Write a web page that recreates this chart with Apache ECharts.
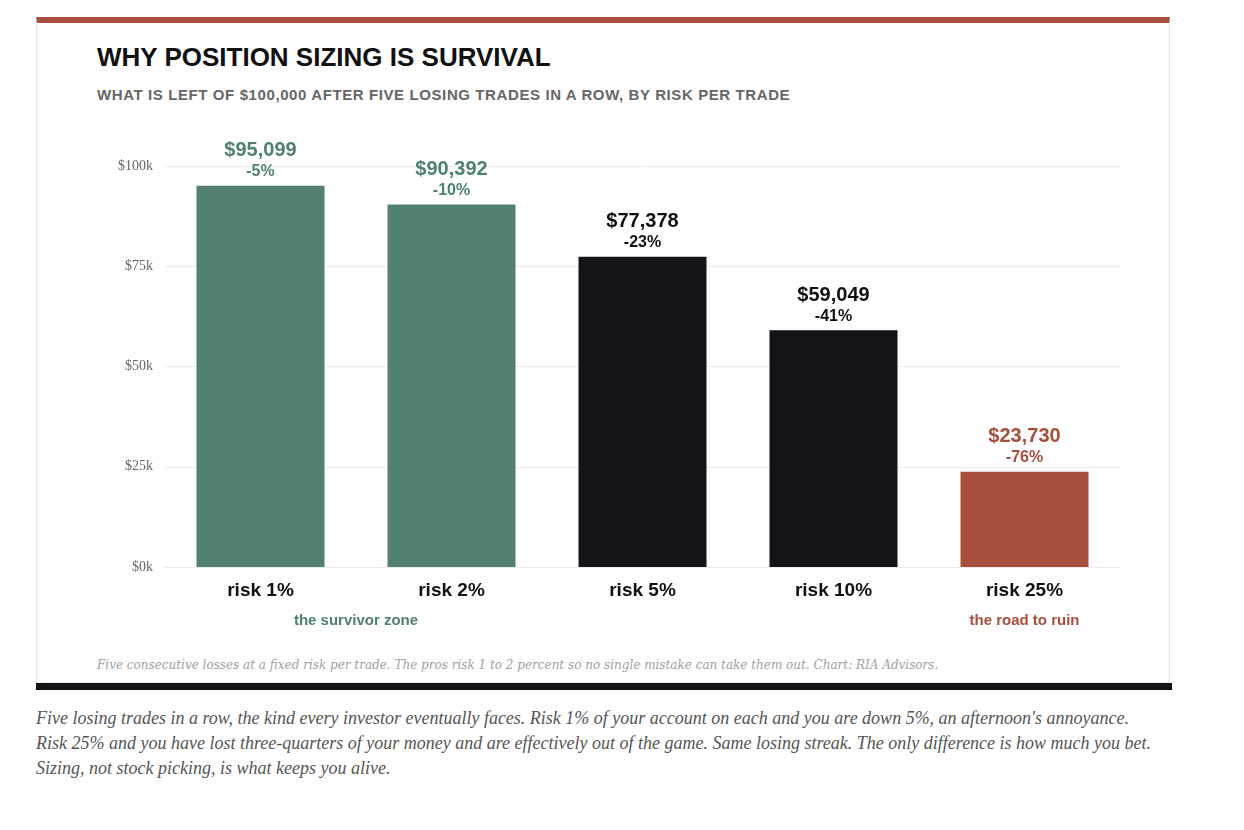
<!DOCTYPE html>
<html><head><meta charset="utf-8">
<script src="https://cdn.jsdelivr.net/npm/echarts@6/dist/echarts.min.js"></script>
<style>
body{margin:0;background:#fff;width:1244px;height:830px;position:relative;overflow:hidden}
#card{position:absolute;left:36px;top:17px;width:1134px;height:666px;border:1px solid #e6e6e6;border-top:6px solid #a84e3c;box-sizing:border-box}
#bar{position:absolute;left:36px;top:683px;width:1136px;height:7px;background:#121418}
#title{position:absolute;left:97px;top:42px;font:bold 26px "Liberation Sans",Arial,sans-serif;color:#111}
#sub{position:absolute;left:97px;top:86px;font:bold 15px "Liberation Sans",Arial,sans-serif;color:#666;letter-spacing:0.6px}
#note{position:absolute;left:97px;top:658px;font:italic 12px "DejaVu Serif",serif;color:#a0a0a0}
#cap{position:absolute;left:36px;top:706px;width:1120px;font:italic 18px "Liberation Serif",Georgia,serif;line-height:25px;color:#555}
#chart{position:absolute;left:36px;top:130px;width:1136px;height:520px}
</style></head><body>
<div id="card"></div><div id="bar"></div>
<div id="title">WHY POSITION SIZING IS SURVIVAL</div>
<div id="sub">WHAT IS LEFT OF $100,000 AFTER FIVE LOSING TRADES IN A ROW, BY RISK PER TRADE</div>
<div id="chart"></div>
<div id="note">Five consecutive losses at a fixed risk per trade. The pros risk 1 to 2 percent so no single mistake can take them out. Chart: RIA Advisors.</div>
<div id="cap">Five losing trades in a row, the kind every investor eventually faces. Risk 1% of your account on each and you are down 5%, an afternoon's annoyance. Risk 25% and you have lost three-quarters of your money and are effectively out of the game. Same losing streak. The only difference is how much you bet. Sizing, not stock picking, is what keeps you alive.</div>
<script>
var categories = ['risk 1%', 'risk 2%', 'risk 5%', 'risk 10%', 'risk 25%'];
var values = [95099, 90392, 77378, 59049, 23730];
var changes = ['-5%', '-10%', '-23%', '-41%', '-76%'];
var barColors = ['#52826f', '#52826f', '#121418', '#121418', '#a84e3c'];
var labelColors = ['#4f8070', '#4f8070', '#111111', '#111111', '#a84e3c'];
var yTicks = [0, 25000, 50000, 75000, 100000];

var chart = echarts.init(document.getElementById('chart'));
var option = {
	animation: false,
	grid: { left: 129, right: 52, top: 36, bottom: 83 },
	xAxis: {
		type: 'category',
		data: categories,
		axisLine: { show: false },
		axisTick: { show: false },
		axisLabel: { margin: 14, fontSize: 19, fontWeight: 'bold', color: '#111', fontFamily: 'Liberation Sans' }
	},
	yAxis: {
		type: 'value',
		min: 0, max: 100000, interval: 25000,
		axisLabel: {
			fontSize: 14, color: '#666', fontFamily: 'Liberation Serif', margin: 12,
			formatter: function (v) { return '$' + (v / 1000) + 'k'; }
		},
		splitLine: { lineStyle: { color: '#ececec' } }
	},
	series: [{
		type: 'bar',
		barWidth: 128,
		data: values.map(function (v, i) {
			return {
				value: v,
				itemStyle: { color: barColors[i] },
				label: {
					show: true, position: 'top', distance: 4,
					formatter: '{a|$' + v.toLocaleString('en-US') + '}\n{b|' + changes[i] + '}',
					rich: {
						a: { fontSize: 20, fontWeight: 'bold', color: labelColors[i], fontFamily: 'Liberation Sans', lineHeight: 22 },
						b: { fontSize: 16, fontWeight: 'bold', color: labelColors[i], fontFamily: 'Liberation Sans', lineHeight: 20 }
					}
				}
			};
		})
	}]
};
chart.setOption(option);
var p0 = chart.convertToPixel({ xAxisIndex: 0 }, 0);
var p1 = chart.convertToPixel({ xAxisIndex: 0 }, 1);
var p4 = chart.convertToPixel({ xAxisIndex: 0 }, 4);
var zy = chart.convertToPixel({ yAxisIndex: 0 }, 0) + 54;
var zstyle = { fontSize: 15, fontWeight: 'bold', fontFamily: 'Liberation Sans', align: 'center', verticalAlign: 'middle' };
chart.setOption({
	graphic: [
		{ type: 'text', x: (p0 + p1) / 2, y: zy, style: Object.assign({ text: 'the survivor zone', fill: '#4f8070' }, zstyle) },
		{ type: 'text', x: p4, y: zy, style: Object.assign({ text: 'the road to ruin', fill: '#a84e3c' }, zstyle) }
	]
});
</script>
</body></html>
